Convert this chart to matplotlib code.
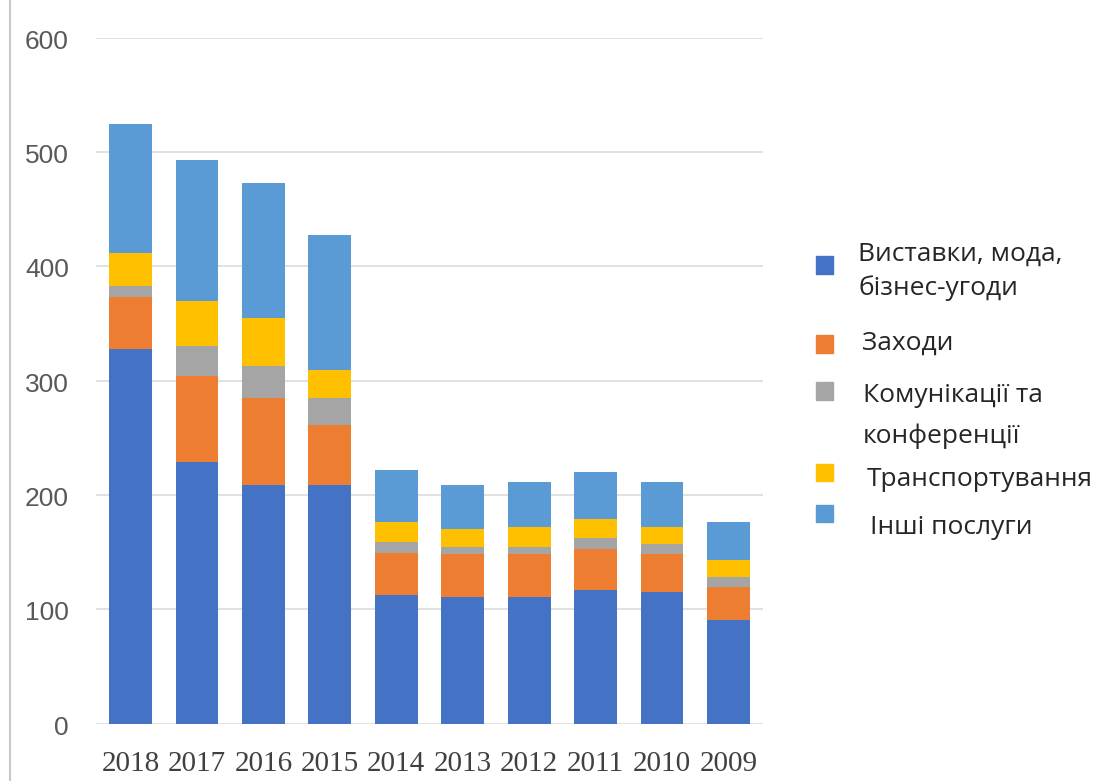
import matplotlib
matplotlib.use("Agg")
import matplotlib.pyplot as plt
from matplotlib.patches import Rectangle
from matplotlib.lines import Line2D
from matplotlib.transforms import ScaledTranslation
import numpy as np

years = ["2018", "2017", "2016", "2015", "2014", "2013", "2012", "2011", "2010", "2009"]
exhibitions = [327.5, 229, 208.7, 208.7, 112.5, 110.5, 110.5, 117, 115.4, 90.6]
events = [45.5, 75, 76.3, 52.3, 36.5, 38, 38, 35.5, 33, 29.2]
communications = [10, 26, 28, 24, 10, 6.4, 5.8, 9.5, 8.6, 8.7]
transport = [28.5, 39.7, 41.6, 24, 17, 15.2, 17.5, 16.7, 14.7, 14.5]
other = [113.5, 123.3, 118, 118.5, 46, 38.7, 40, 41.7, 40, 33.6]

series_names = ["Виставки, мода,\nбізнес-угоди", "Заходи", "Комунікації та\nконференції",
                "Транспортування", "Інші послуги"]
colors = ["#4472C4", "#ED7D31", "#A5A5A5", "#FFC000", "#5B9BD5"]
yticks = [0, 100, 200, 300, 400, 500, 600]

fig = plt.figure(figsize=(11.02, 7.81), dpi=100)
W, H = 1102, 781
ax = fig.add_axes([96 / W, 1 - 723.6 / H, (763 - 96) / W, (723.6 - 37.8) / H])

x = np.arange(len(years))
bottom = np.zeros(len(years))
data = [exhibitions, events, communications, transport, other]
for vals, c, name in zip(data, colors, series_names):
    ax.bar(x, vals, width=0.645, bottom=bottom, color=c, label=name, zorder=3)
    bottom += np.array(vals)

ax.set_ylim(0, 600)
ax.set_xlim(-0.52, 9.52)
ax.set_yticks(yticks)
ax.set_yticklabels([str(t) for t in yticks], fontsize=19, color="#595959",
                   family="Liberation Sans")
ax.set_xticks(x)
ax.set_xticklabels(years, fontsize=21, color="#404040", family="Liberation Serif")
ax.tick_params(axis="y", length=0, pad=19.5)
ax.tick_params(axis="x", length=0, pad=19.8)
shift = ScaledTranslation(0, -4 / 100, fig.dpi_scale_trans)
for lab in ax.get_yticklabels():
    lab.set_va("center")
    lab.set_transform(lab.get_transform() + shift)
ax.grid(axis="y", color="#DCDCDC", linewidth=1.2, zorder=0)
for s in ax.spines.values():
    s.set_visible(False)

# left border line of the image
fig.add_artist(Line2D([10 / W, 10 / W], [0, 1], color="#C8C8C8", linewidth=1.5,
                      transform=fig.transFigure))

# manual legend
marker_y = [265, 344, 391, 472, 513]
text_y = [271.5, 343, 416, 479, 528]
text_x = [858, 862, 863, 867, 870]
spacings = [1.45, 1.2, 1.75, 1.2, 1.2]
for c, my, ty, tx, ls, name in zip(colors, marker_y, text_y, text_x, spacings, series_names):
    fig.add_artist(Rectangle((816 / W, 1 - (my + 8.5) / H), 17 / W, 17 / H,
                             transform=fig.transFigure, color=c))
    fig.text(tx / W, 1 - ty / H, name, fontsize=19, family="Open Sans", color="#262626",
             ha="left", va="center", linespacing=ls)

fig.savefig("out.png", dpi=100)
